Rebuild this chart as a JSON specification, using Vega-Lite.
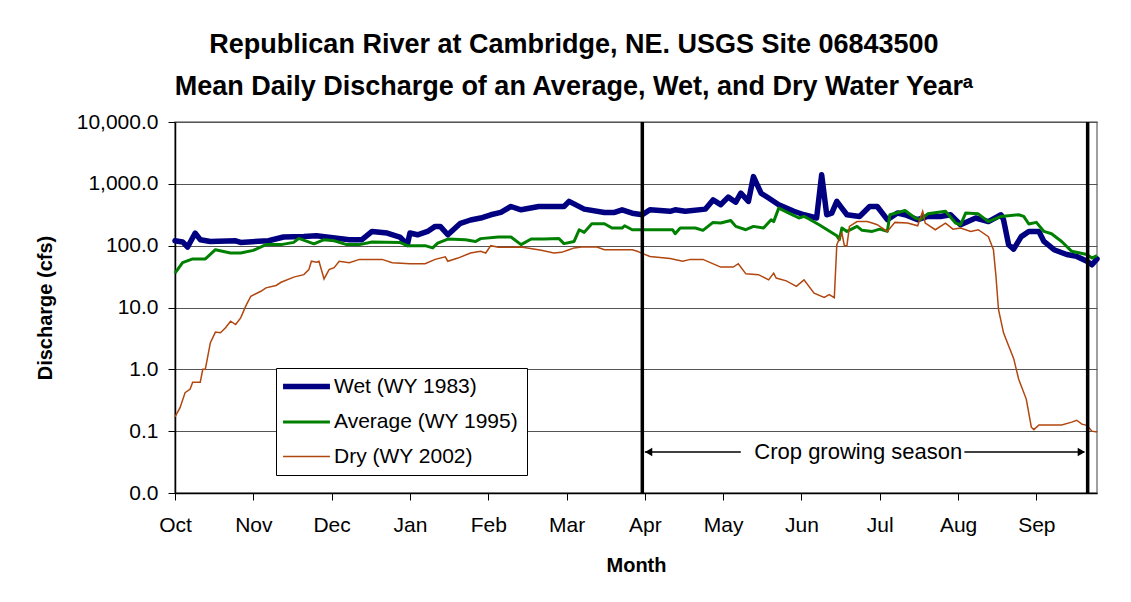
{
  "$schema": "https://vega.github.io/schema/vega-lite/v6.json",
  "width": 922,
  "height": 371,
  "autosize": {"type": "none"},
  "padding": {"left": 175, "top": 122, "right": 34, "bottom": 109},
  "background": "white",
  "title": {
    "text": ["Republican River at Cambridge, NE. USGS Site 06843500", "Mean Daily Discharge of an Average, Wet, and Dry Water Yearᵃ"],
    "font": "Liberation Sans",
    "fontSize": 27,
    "fontWeight": "bold",
    "color": "black",
    "lineHeight": 42,
    "anchor": "middle",
    "dx": -62,
    "offset": 10
  },
  "datasets": {
    "flows": [
      {"series": "Wet (WY 1983)", "day": 0, "cfs": 120},
      {"series": "Wet (WY 1983)", "day": 3, "cfs": 115},
      {"series": "Wet (WY 1983)", "day": 5, "cfs": 95},
      {"series": "Wet (WY 1983)", "day": 8, "cfs": 160},
      {"series": "Wet (WY 1983)", "day": 10, "cfs": 125},
      {"series": "Wet (WY 1983)", "day": 14, "cfs": 117},
      {"series": "Wet (WY 1983)", "day": 24, "cfs": 120},
      {"series": "Wet (WY 1983)", "day": 26, "cfs": 113},
      {"series": "Wet (WY 1983)", "day": 37, "cfs": 120},
      {"series": "Wet (WY 1983)", "day": 43, "cfs": 138},
      {"series": "Wet (WY 1983)", "day": 51, "cfs": 141},
      {"series": "Wet (WY 1983)", "day": 56, "cfs": 145},
      {"series": "Wet (WY 1983)", "day": 60, "cfs": 138},
      {"series": "Wet (WY 1983)", "day": 69, "cfs": 125},
      {"series": "Wet (WY 1983)", "day": 74, "cfs": 125},
      {"series": "Wet (WY 1983)", "day": 78, "cfs": 170},
      {"series": "Wet (WY 1983)", "day": 84, "cfs": 160},
      {"series": "Wet (WY 1983)", "day": 89, "cfs": 138},
      {"series": "Wet (WY 1983)", "day": 92, "cfs": 105},
      {"series": "Wet (WY 1983)", "day": 93, "cfs": 160},
      {"series": "Wet (WY 1983)", "day": 96, "cfs": 150},
      {"series": "Wet (WY 1983)", "day": 100, "cfs": 170},
      {"series": "Wet (WY 1983)", "day": 103, "cfs": 205},
      {"series": "Wet (WY 1983)", "day": 105, "cfs": 205},
      {"series": "Wet (WY 1983)", "day": 108, "cfs": 150},
      {"series": "Wet (WY 1983)", "day": 113, "cfs": 230},
      {"series": "Wet (WY 1983)", "day": 117, "cfs": 260},
      {"series": "Wet (WY 1983)", "day": 121, "cfs": 280},
      {"series": "Wet (WY 1983)", "day": 125, "cfs": 316},
      {"series": "Wet (WY 1983)", "day": 129, "cfs": 345},
      {"series": "Wet (WY 1983)", "day": 133, "cfs": 430},
      {"series": "Wet (WY 1983)", "day": 137, "cfs": 380},
      {"series": "Wet (WY 1983)", "day": 144, "cfs": 430},
      {"series": "Wet (WY 1983)", "day": 149, "cfs": 430},
      {"series": "Wet (WY 1983)", "day": 154, "cfs": 430},
      {"series": "Wet (WY 1983)", "day": 156, "cfs": 520},
      {"series": "Wet (WY 1983)", "day": 162, "cfs": 390},
      {"series": "Wet (WY 1983)", "day": 170, "cfs": 345},
      {"series": "Wet (WY 1983)", "day": 174, "cfs": 345},
      {"series": "Wet (WY 1983)", "day": 177, "cfs": 380},
      {"series": "Wet (WY 1983)", "day": 181, "cfs": 335},
      {"series": "Wet (WY 1983)", "day": 185, "cfs": 316},
      {"series": "Wet (WY 1983)", "day": 188, "cfs": 380},
      {"series": "Wet (WY 1983)", "day": 196, "cfs": 360},
      {"series": "Wet (WY 1983)", "day": 198, "cfs": 380},
      {"series": "Wet (WY 1983)", "day": 202, "cfs": 360},
      {"series": "Wet (WY 1983)", "day": 210, "cfs": 390},
      {"series": "Wet (WY 1983)", "day": 213, "cfs": 550},
      {"series": "Wet (WY 1983)", "day": 216, "cfs": 460},
      {"series": "Wet (WY 1983)", "day": 219, "cfs": 610},
      {"series": "Wet (WY 1983)", "day": 222, "cfs": 505},
      {"series": "Wet (WY 1983)", "day": 224, "cfs": 705},
      {"series": "Wet (WY 1983)", "day": 227, "cfs": 520},
      {"series": "Wet (WY 1983)", "day": 229, "cfs": 1310},
      {"series": "Wet (WY 1983)", "day": 232, "cfs": 705},
      {"series": "Wet (WY 1983)", "day": 235, "cfs": 590},
      {"series": "Wet (WY 1983)", "day": 239, "cfs": 460},
      {"series": "Wet (WY 1983)", "day": 245, "cfs": 360},
      {"series": "Wet (WY 1983)", "day": 249, "cfs": 316},
      {"series": "Wet (WY 1983)", "day": 254, "cfs": 280},
      {"series": "Wet (WY 1983)", "day": 256, "cfs": 1400},
      {"series": "Wet (WY 1983)", "day": 258, "cfs": 316},
      {"series": "Wet (WY 1983)", "day": 260, "cfs": 335},
      {"series": "Wet (WY 1983)", "day": 262, "cfs": 520},
      {"series": "Wet (WY 1983)", "day": 264, "cfs": 405},
      {"series": "Wet (WY 1983)", "day": 266, "cfs": 316},
      {"series": "Wet (WY 1983)", "day": 271, "cfs": 297},
      {"series": "Wet (WY 1983)", "day": 275, "cfs": 430},
      {"series": "Wet (WY 1983)", "day": 278, "cfs": 430},
      {"series": "Wet (WY 1983)", "day": 282, "cfs": 263},
      {"series": "Wet (WY 1983)", "day": 286, "cfs": 337},
      {"series": "Wet (WY 1983)", "day": 289, "cfs": 316},
      {"series": "Wet (WY 1983)", "day": 294, "cfs": 263},
      {"series": "Wet (WY 1983)", "day": 298, "cfs": 297},
      {"series": "Wet (WY 1983)", "day": 303, "cfs": 297},
      {"series": "Wet (WY 1983)", "day": 307, "cfs": 316},
      {"series": "Wet (WY 1983)", "day": 311, "cfs": 218},
      {"series": "Wet (WY 1983)", "day": 317, "cfs": 280},
      {"series": "Wet (WY 1983)", "day": 322, "cfs": 245},
      {"series": "Wet (WY 1983)", "day": 327, "cfs": 316},
      {"series": "Wet (WY 1983)", "day": 328, "cfs": 263},
      {"series": "Wet (WY 1983)", "day": 330, "cfs": 104},
      {"series": "Wet (WY 1983)", "day": 332, "cfs": 88},
      {"series": "Wet (WY 1983)", "day": 335, "cfs": 140},
      {"series": "Wet (WY 1983)", "day": 338, "cfs": 170},
      {"series": "Wet (WY 1983)", "day": 342, "cfs": 170},
      {"series": "Wet (WY 1983)", "day": 344, "cfs": 117},
      {"series": "Wet (WY 1983)", "day": 348, "cfs": 86},
      {"series": "Wet (WY 1983)", "day": 353, "cfs": 72},
      {"series": "Wet (WY 1983)", "day": 357, "cfs": 67},
      {"series": "Wet (WY 1983)", "day": 361, "cfs": 56},
      {"series": "Wet (WY 1983)", "day": 363, "cfs": 49},
      {"series": "Wet (WY 1983)", "day": 365, "cfs": 61},

      {"series": "Average (WY 1995)", "day": 0, "cfs": 36},
      {"series": "Average (WY 1995)", "day": 3, "cfs": 53},
      {"series": "Average (WY 1995)", "day": 7, "cfs": 61},
      {"series": "Average (WY 1995)", "day": 12, "cfs": 61},
      {"series": "Average (WY 1995)", "day": 16, "cfs": 86},
      {"series": "Average (WY 1995)", "day": 22, "cfs": 76},
      {"series": "Average (WY 1995)", "day": 26, "cfs": 76},
      {"series": "Average (WY 1995)", "day": 31, "cfs": 84},
      {"series": "Average (WY 1995)", "day": 36, "cfs": 104},
      {"series": "Average (WY 1995)", "day": 42, "cfs": 104},
      {"series": "Average (WY 1995)", "day": 47, "cfs": 113},
      {"series": "Average (WY 1995)", "day": 49, "cfs": 131},
      {"series": "Average (WY 1995)", "day": 55, "cfs": 107},
      {"series": "Average (WY 1995)", "day": 59, "cfs": 125},
      {"series": "Average (WY 1995)", "day": 63, "cfs": 120},
      {"series": "Average (WY 1995)", "day": 68, "cfs": 104},
      {"series": "Average (WY 1995)", "day": 73, "cfs": 104},
      {"series": "Average (WY 1995)", "day": 78, "cfs": 115},
      {"series": "Average (WY 1995)", "day": 89, "cfs": 113},
      {"series": "Average (WY 1995)", "day": 92, "cfs": 100},
      {"series": "Average (WY 1995)", "day": 99, "cfs": 100},
      {"series": "Average (WY 1995)", "day": 102, "cfs": 92},
      {"series": "Average (WY 1995)", "day": 104, "cfs": 110},
      {"series": "Average (WY 1995)", "day": 108, "cfs": 128},
      {"series": "Average (WY 1995)", "day": 115, "cfs": 125},
      {"series": "Average (WY 1995)", "day": 119, "cfs": 117},
      {"series": "Average (WY 1995)", "day": 121, "cfs": 130},
      {"series": "Average (WY 1995)", "day": 128, "cfs": 138},
      {"series": "Average (WY 1995)", "day": 133, "cfs": 138},
      {"series": "Average (WY 1995)", "day": 137, "cfs": 104},
      {"series": "Average (WY 1995)", "day": 141, "cfs": 128},
      {"series": "Average (WY 1995)", "day": 146, "cfs": 128},
      {"series": "Average (WY 1995)", "day": 152, "cfs": 130},
      {"series": "Average (WY 1995)", "day": 154, "cfs": 108},
      {"series": "Average (WY 1995)", "day": 158, "cfs": 117},
      {"series": "Average (WY 1995)", "day": 160, "cfs": 181},
      {"series": "Average (WY 1995)", "day": 162, "cfs": 164},
      {"series": "Average (WY 1995)", "day": 165, "cfs": 226},
      {"series": "Average (WY 1995)", "day": 170, "cfs": 226},
      {"series": "Average (WY 1995)", "day": 173, "cfs": 193},
      {"series": "Average (WY 1995)", "day": 177, "cfs": 193},
      {"series": "Average (WY 1995)", "day": 178, "cfs": 210},
      {"series": "Average (WY 1995)", "day": 181, "cfs": 181},
      {"series": "Average (WY 1995)", "day": 185, "cfs": 181},
      {"series": "Average (WY 1995)", "day": 192, "cfs": 181},
      {"series": "Average (WY 1995)", "day": 197, "cfs": 181},
      {"series": "Average (WY 1995)", "day": 198, "cfs": 156},
      {"series": "Average (WY 1995)", "day": 200, "cfs": 193},
      {"series": "Average (WY 1995)", "day": 206, "cfs": 193},
      {"series": "Average (WY 1995)", "day": 209, "cfs": 177},
      {"series": "Average (WY 1995)", "day": 213, "cfs": 238},
      {"series": "Average (WY 1995)", "day": 216, "cfs": 232},
      {"series": "Average (WY 1995)", "day": 220, "cfs": 256},
      {"series": "Average (WY 1995)", "day": 222, "cfs": 205},
      {"series": "Average (WY 1995)", "day": 226, "cfs": 181},
      {"series": "Average (WY 1995)", "day": 229, "cfs": 205},
      {"series": "Average (WY 1995)", "day": 233, "cfs": 193},
      {"series": "Average (WY 1995)", "day": 236, "cfs": 263},
      {"series": "Average (WY 1995)", "day": 237, "cfs": 245},
      {"series": "Average (WY 1995)", "day": 239, "cfs": 405},
      {"series": "Average (WY 1995)", "day": 243, "cfs": 337},
      {"series": "Average (WY 1995)", "day": 247, "cfs": 280},
      {"series": "Average (WY 1995)", "day": 249, "cfs": 297},
      {"series": "Average (WY 1995)", "day": 251, "cfs": 270},
      {"series": "Average (WY 1995)", "day": 255, "cfs": 218},
      {"series": "Average (WY 1995)", "day": 262, "cfs": 145},
      {"series": "Average (WY 1995)", "day": 263, "cfs": 125},
      {"series": "Average (WY 1995)", "day": 264, "cfs": 193},
      {"series": "Average (WY 1995)", "day": 266, "cfs": 170},
      {"series": "Average (WY 1995)", "day": 270, "cfs": 205},
      {"series": "Average (WY 1995)", "day": 272, "cfs": 177},
      {"series": "Average (WY 1995)", "day": 276, "cfs": 170},
      {"series": "Average (WY 1995)", "day": 279, "cfs": 185},
      {"series": "Average (WY 1995)", "day": 282, "cfs": 170},
      {"series": "Average (WY 1995)", "day": 283, "cfs": 316},
      {"series": "Average (WY 1995)", "day": 289, "cfs": 371},
      {"series": "Average (WY 1995)", "day": 293, "cfs": 280},
      {"series": "Average (WY 1995)", "day": 295, "cfs": 263},
      {"series": "Average (WY 1995)", "day": 298, "cfs": 327},
      {"series": "Average (WY 1995)", "day": 303, "cfs": 350},
      {"series": "Average (WY 1995)", "day": 305, "cfs": 360},
      {"series": "Average (WY 1995)", "day": 309, "cfs": 232},
      {"series": "Average (WY 1995)", "day": 311, "cfs": 218},
      {"series": "Average (WY 1995)", "day": 313, "cfs": 337},
      {"series": "Average (WY 1995)", "day": 318, "cfs": 327},
      {"series": "Average (WY 1995)", "day": 322, "cfs": 245},
      {"series": "Average (WY 1995)", "day": 327, "cfs": 297},
      {"series": "Average (WY 1995)", "day": 334, "cfs": 316},
      {"series": "Average (WY 1995)", "day": 336, "cfs": 297},
      {"series": "Average (WY 1995)", "day": 338, "cfs": 224},
      {"series": "Average (WY 1995)", "day": 341, "cfs": 238},
      {"series": "Average (WY 1995)", "day": 344, "cfs": 170},
      {"series": "Average (WY 1995)", "day": 347, "cfs": 156},
      {"series": "Average (WY 1995)", "day": 351, "cfs": 117},
      {"series": "Average (WY 1995)", "day": 355, "cfs": 81},
      {"series": "Average (WY 1995)", "day": 361, "cfs": 72},
      {"series": "Average (WY 1995)", "day": 363, "cfs": 63},
      {"series": "Average (WY 1995)", "day": 365, "cfs": 69},

      {"series": "Dry (WY 2002)", "day": 0, "cfs": 0.17},
      {"series": "Dry (WY 2002)", "day": 2, "cfs": 0.24},
      {"series": "Dry (WY 2002)", "day": 4, "cfs": 0.42},
      {"series": "Dry (WY 2002)", "day": 6, "cfs": 0.48},
      {"series": "Dry (WY 2002)", "day": 7, "cfs": 0.62},
      {"series": "Dry (WY 2002)", "day": 10, "cfs": 0.62},
      {"series": "Dry (WY 2002)", "day": 11, "cfs": 1.0},
      {"series": "Dry (WY 2002)", "day": 12, "cfs": 1.0},
      {"series": "Dry (WY 2002)", "day": 14, "cfs": 2.7},
      {"series": "Dry (WY 2002)", "day": 16, "cfs": 4.0},
      {"series": "Dry (WY 2002)", "day": 18, "cfs": 3.9},
      {"series": "Dry (WY 2002)", "day": 20, "cfs": 4.7},
      {"series": "Dry (WY 2002)", "day": 22, "cfs": 6.0},
      {"series": "Dry (WY 2002)", "day": 24, "cfs": 5.3},
      {"series": "Dry (WY 2002)", "day": 26, "cfs": 6.8},
      {"series": "Dry (WY 2002)", "day": 28, "cfs": 10.5},
      {"series": "Dry (WY 2002)", "day": 30, "cfs": 15.2},
      {"series": "Dry (WY 2002)", "day": 34, "cfs": 18.3},
      {"series": "Dry (WY 2002)", "day": 36, "cfs": 20.8},
      {"series": "Dry (WY 2002)", "day": 40, "cfs": 22.7},
      {"series": "Dry (WY 2002)", "day": 42, "cfs": 25.6},
      {"series": "Dry (WY 2002)", "day": 47, "cfs": 31},
      {"series": "Dry (WY 2002)", "day": 51, "cfs": 34},
      {"series": "Dry (WY 2002)", "day": 53, "cfs": 41},
      {"series": "Dry (WY 2002)", "day": 54, "cfs": 56},
      {"series": "Dry (WY 2002)", "day": 56, "cfs": 54},
      {"series": "Dry (WY 2002)", "day": 57, "cfs": 56},
      {"series": "Dry (WY 2002)", "day": 59, "cfs": 29},
      {"series": "Dry (WY 2002)", "day": 61, "cfs": 41},
      {"series": "Dry (WY 2002)", "day": 63, "cfs": 44},
      {"series": "Dry (WY 2002)", "day": 65, "cfs": 56},
      {"series": "Dry (WY 2002)", "day": 69, "cfs": 53},
      {"series": "Dry (WY 2002)", "day": 73, "cfs": 60},
      {"series": "Dry (WY 2002)", "day": 82, "cfs": 60},
      {"series": "Dry (WY 2002)", "day": 86, "cfs": 53},
      {"series": "Dry (WY 2002)", "day": 93, "cfs": 51},
      {"series": "Dry (WY 2002)", "day": 99, "cfs": 51},
      {"series": "Dry (WY 2002)", "day": 103, "cfs": 60},
      {"series": "Dry (WY 2002)", "day": 107, "cfs": 66},
      {"series": "Dry (WY 2002)", "day": 108, "cfs": 56},
      {"series": "Dry (WY 2002)", "day": 112, "cfs": 63},
      {"series": "Dry (WY 2002)", "day": 117, "cfs": 76},
      {"series": "Dry (WY 2002)", "day": 121, "cfs": 81},
      {"series": "Dry (WY 2002)", "day": 123, "cfs": 76},
      {"series": "Dry (WY 2002)", "day": 125, "cfs": 100},
      {"series": "Dry (WY 2002)", "day": 128, "cfs": 94},
      {"series": "Dry (WY 2002)", "day": 137, "cfs": 95},
      {"series": "Dry (WY 2002)", "day": 145, "cfs": 84},
      {"series": "Dry (WY 2002)", "day": 150, "cfs": 76},
      {"series": "Dry (WY 2002)", "day": 153, "cfs": 78},
      {"series": "Dry (WY 2002)", "day": 156, "cfs": 86},
      {"series": "Dry (WY 2002)", "day": 158, "cfs": 92},
      {"series": "Dry (WY 2002)", "day": 161, "cfs": 95},
      {"series": "Dry (WY 2002)", "day": 167, "cfs": 95},
      {"series": "Dry (WY 2002)", "day": 170, "cfs": 86},
      {"series": "Dry (WY 2002)", "day": 181, "cfs": 86},
      {"series": "Dry (WY 2002)", "day": 183, "cfs": 81},
      {"series": "Dry (WY 2002)", "day": 184, "cfs": 78},
      {"series": "Dry (WY 2002)", "day": 188, "cfs": 67},
      {"series": "Dry (WY 2002)", "day": 196, "cfs": 62},
      {"series": "Dry (WY 2002)", "day": 201, "cfs": 56},
      {"series": "Dry (WY 2002)", "day": 204, "cfs": 60},
      {"series": "Dry (WY 2002)", "day": 209, "cfs": 60},
      {"series": "Dry (WY 2002)", "day": 214, "cfs": 49},
      {"series": "Dry (WY 2002)", "day": 216, "cfs": 45},
      {"series": "Dry (WY 2002)", "day": 221, "cfs": 45},
      {"series": "Dry (WY 2002)", "day": 223, "cfs": 51},
      {"series": "Dry (WY 2002)", "day": 226, "cfs": 35},
      {"series": "Dry (WY 2002)", "day": 231, "cfs": 34},
      {"series": "Dry (WY 2002)", "day": 235, "cfs": 28},
      {"series": "Dry (WY 2002)", "day": 237, "cfs": 36},
      {"series": "Dry (WY 2002)", "day": 238, "cfs": 30},
      {"series": "Dry (WY 2002)", "day": 242, "cfs": 27},
      {"series": "Dry (WY 2002)", "day": 246, "cfs": 22},
      {"series": "Dry (WY 2002)", "day": 249, "cfs": 28},
      {"series": "Dry (WY 2002)", "day": 253, "cfs": 17},
      {"series": "Dry (WY 2002)", "day": 257, "cfs": 14.6},
      {"series": "Dry (WY 2002)", "day": 259, "cfs": 16.2},
      {"series": "Dry (WY 2002)", "day": 261, "cfs": 14.4},
      {"series": "Dry (WY 2002)", "day": 262, "cfs": 104},
      {"series": "Dry (WY 2002)", "day": 264, "cfs": 160},
      {"series": "Dry (WY 2002)", "day": 265, "cfs": 100},
      {"series": "Dry (WY 2002)", "day": 266, "cfs": 100},
      {"series": "Dry (WY 2002)", "day": 267, "cfs": 205},
      {"series": "Dry (WY 2002)", "day": 270, "cfs": 245},
      {"series": "Dry (WY 2002)", "day": 274, "cfs": 245},
      {"series": "Dry (WY 2002)", "day": 276, "cfs": 232},
      {"series": "Dry (WY 2002)", "day": 278, "cfs": 218},
      {"series": "Dry (WY 2002)", "day": 282, "cfs": 170},
      {"series": "Dry (WY 2002)", "day": 285, "cfs": 238},
      {"series": "Dry (WY 2002)", "day": 290, "cfs": 232},
      {"series": "Dry (WY 2002)", "day": 294, "cfs": 210},
      {"series": "Dry (WY 2002)", "day": 296, "cfs": 360},
      {"series": "Dry (WY 2002)", "day": 297, "cfs": 232},
      {"series": "Dry (WY 2002)", "day": 301, "cfs": 181},
      {"series": "Dry (WY 2002)", "day": 305, "cfs": 232},
      {"series": "Dry (WY 2002)", "day": 308, "cfs": 185},
      {"series": "Dry (WY 2002)", "day": 311, "cfs": 193},
      {"series": "Dry (WY 2002)", "day": 315, "cfs": 170},
      {"series": "Dry (WY 2002)", "day": 318, "cfs": 181},
      {"series": "Dry (WY 2002)", "day": 322, "cfs": 140},
      {"series": "Dry (WY 2002)", "day": 324, "cfs": 86},
      {"series": "Dry (WY 2002)", "day": 325, "cfs": 32},
      {"series": "Dry (WY 2002)", "day": 326, "cfs": 9.3},
      {"series": "Dry (WY 2002)", "day": 328, "cfs": 3.9},
      {"series": "Dry (WY 2002)", "day": 330, "cfs": 2.4},
      {"series": "Dry (WY 2002)", "day": 332, "cfs": 1.5},
      {"series": "Dry (WY 2002)", "day": 334, "cfs": 0.69},
      {"series": "Dry (WY 2002)", "day": 337, "cfs": 0.33},
      {"series": "Dry (WY 2002)", "day": 339, "cfs": 0.116},
      {"series": "Dry (WY 2002)", "day": 340, "cfs": 0.106},
      {"series": "Dry (WY 2002)", "day": 342, "cfs": 0.126},
      {"series": "Dry (WY 2002)", "day": 347, "cfs": 0.126},
      {"series": "Dry (WY 2002)", "day": 351, "cfs": 0.126},
      {"series": "Dry (WY 2002)", "day": 355, "cfs": 0.14},
      {"series": "Dry (WY 2002)", "day": 357, "cfs": 0.15},
      {"series": "Dry (WY 2002)", "day": 359, "cfs": 0.13},
      {"series": "Dry (WY 2002)", "day": 361, "cfs": 0.124},
      {"series": "Dry (WY 2002)", "day": 363, "cfs": 0.1},
      {"series": "Dry (WY 2002)", "day": 365, "cfs": 0.097}
    ],
    "season": [{"day": 185}, {"day": 361.3}],
    "arrowLines": [{"start": 186, "end": 224, "cfs": 0.046}, {"start": 312.5, "end": 360, "cfs": 0.046}],
    "arrowLeft": [{"day": 187.5, "cfs": 0.046}],
    "arrowRight": [{"day": 358.8, "cfs": 0.046}],
    "label": [{"day": 270.5, "cfs": 0.046, "text": "Crop growing season"}]
  },
  "layer": [
    {
      "data": {"name": "flows"},
      "transform": [{"filter": "datum.series === 'Wet (WY 1983)'"}],
      "mark": {"type": "line", "strokeWidth": 5.5, "strokeJoin": "round", "strokeCap": "round"},
      "encoding": {
        "x": {"field": "day", "type": "quantitative", "scale": {"domain": [0, 365], "nice": false, "zero": false},
          "axis": {"title": "Month", "values": [0, 31, 62, 93, 124, 155, 186, 217, 248, 279, 310, 341],
            "labelExpr": "['Oct','Nov','Dec','Jan','Feb','Mar','Apr','May','Jun','Jul','Aug','Sep'][round(datum.value/31)]",
            "labelFlush": false, "grid": false, "tickSize": 7, "labelPadding": 14, "titlePadding": 20}},
        "y": {"field": "cfs", "type": "quantitative", "scale": {"type": "log", "domain": [0.01, 10000], "nice": false},
          "axis": {"title": "Discharge (cfs)", "values": [0.01, 0.1, 1, 10, 100, 1000, 10000], "format": ",.1f",
            "labelFlush": false, "grid": true, "tickSize": 7, "labelPadding": 10, "titlePadding": 21}},
        "color": {"field": "series", "type": "nominal",
          "scale": {"domain": ["Wet (WY 1983)", "Average (WY 1995)", "Dry (WY 2002)"], "range": ["#000080", "#008000", "#B2460F"]},
          "legend": {"title": null, "orient": "none", "legendX": 101, "legendY": 246,
            "strokeColor": "black", "fillColor": "white", "padding": 8, "symbolType": "stroke", "symbolSize": 2200,
            "symbolOffset": 12, "labelOffset": 17, "labelLimit": 400,
            "labelFontSize": 21, "labelFont": "Liberation Sans", "labelColor": "black", "rowPadding": 12.5,
            "encode": {"symbols": {"update": {"strokeWidth": {"signal": "datum.value === 'Wet (WY 1983)' ? 5.5 : datum.value === 'Average (WY 1995)' ? 3 : 1.5"}}}}}}
      }
    },
    {
      "data": {"name": "flows"},
      "transform": [{"filter": "datum.series === 'Average (WY 1995)'"}],
      "mark": {"type": "line", "strokeWidth": 3, "strokeJoin": "round"},
      "encoding": {
        "x": {"field": "day", "type": "quantitative"},
        "y": {"field": "cfs", "type": "quantitative"},
        "color": {"field": "series", "type": "nominal"}
      }
    },
    {
      "data": {"name": "flows"},
      "transform": [{"filter": "datum.series === 'Dry (WY 2002)'"}],
      "mark": {"type": "line", "strokeWidth": 1.5},
      "encoding": {
        "x": {"field": "day", "type": "quantitative"},
        "y": {"field": "cfs", "type": "quantitative"},
        "color": {"field": "series", "type": "nominal"}
      }
    },
    {
      "data": {"name": "season"},
      "mark": {"type": "rule", "color": "black", "strokeWidth": 3.5},
      "encoding": {"x": {"field": "day", "type": "quantitative"}}
    },
    {
      "data": {"name": "arrowLines"},
      "mark": {"type": "rule", "color": "black", "strokeWidth": 1.5},
      "encoding": {
        "x": {"field": "start", "type": "quantitative"},
        "x2": {"field": "end"},
        "y": {"field": "cfs", "type": "quantitative"}
      }
    },
    {
      "data": {"name": "arrowLeft"},
      "mark": {"type": "point", "shape": "triangle-left", "filled": true, "color": "black", "size": 70, "opacity": 1},
      "encoding": {
        "x": {"field": "day", "type": "quantitative"},
        "y": {"field": "cfs", "type": "quantitative"}
      }
    },
    {
      "data": {"name": "arrowRight"},
      "mark": {"type": "point", "shape": "triangle-right", "filled": true, "color": "black", "size": 70, "opacity": 1},
      "encoding": {
        "x": {"field": "day", "type": "quantitative"},
        "y": {"field": "cfs", "type": "quantitative"}
      }
    },
    {
      "data": {"name": "label"},
      "mark": {"type": "text", "font": "Liberation Sans", "fontSize": 22, "color": "black", "align": "center", "baseline": "middle"},
      "encoding": {
        "x": {"field": "day", "type": "quantitative"},
        "y": {"field": "cfs", "type": "quantitative"},
        "text": {"field": "text"}
      }
    }
  ],
  "config": {
    "view": {"stroke": "#808080", "strokeWidth": 1.5},
    "axis": {
      "labelFont": "Liberation Sans", "labelFontSize": 21, "labelColor": "black",
      "titleFont": "Liberation Sans", "titleFontSize": 20, "titleFontWeight": "bold", "titleColor": "black",
      "domainColor": "black", "domainWidth": 1.5, "tickColor": "black", "tickWidth": 1,
      "gridColor": "#555555", "gridWidth": 1, "gridOpacity": 1
    }
  }
}
